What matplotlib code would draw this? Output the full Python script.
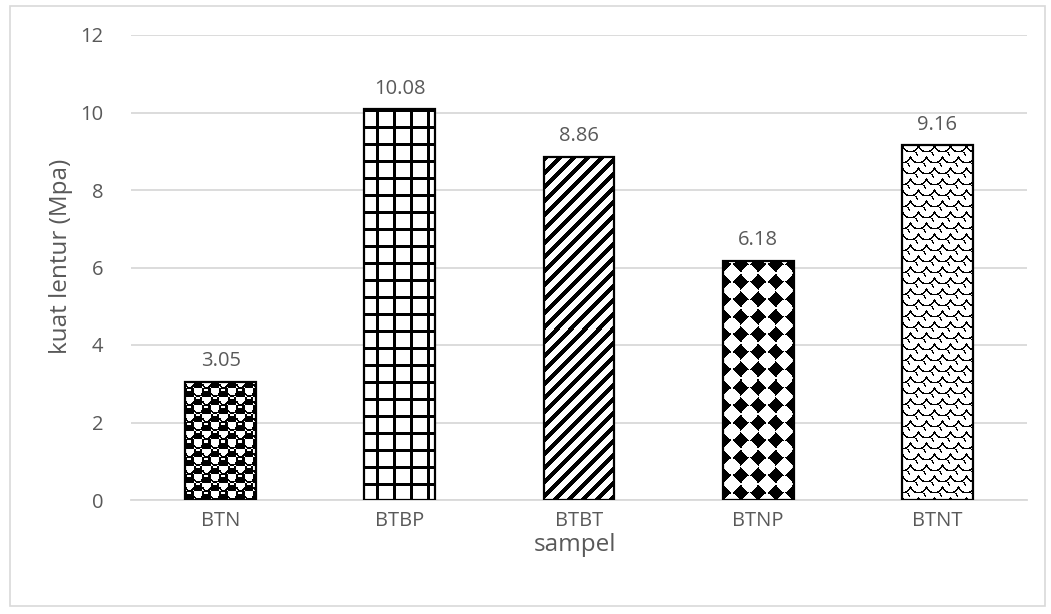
import numpy as np
import matplotlib
matplotlib.use("Agg")
import matplotlib.pyplot as plt
from matplotlib.patches import Rectangle

categories = ["BTN", "BTBP", "BTBT", "BTNP", "BTNT"]
values = [3.05, 10.08, 8.86, 6.18, 9.16]
value_labels = ["3.05", "10.08", "8.86", "6.18", "9.16"]
patterns = ["dots", "grid", "diag", "diamond", "scale"]
yticks = [0, 2, 4, 6, 8, 10, 12]

W, H, DPI = 1051, 614, 100
TXT = "#595959"
GRID = "#d9d9d9"
plt.rcParams["font.family"] = ["Open Sans", "DejaVu Sans"]

fig = plt.figure(figsize=(W / DPI, H / DPI), dpi=DPI)
L, R, T, B = 131, 1027, 35, 500
ax = fig.add_axes([L / W, 1 - B / H, (R - L) / W, (B - T) / H])
ax.set_xlim(-0.5, len(categories) - 0.5)
ax.set_ylim(0, 12)

# chart-area border
fig.patches.append(Rectangle((10 / W, 1 - 606 / H), 1035 / W, 600 / H,
                             transform=fig.transFigure, fill=False,
                             edgecolor=GRID, linewidth=1.2))


def make_pattern(kind, h, w):
    yy, xx = np.mgrid[0:h, 0:w]
    yb = (h - 1 - yy)  # from bottom
    black = np.zeros((h, w), bool)
    if kind == "dots":
        c = 8.5
        i = np.floor(xx / c)
        j = np.floor(yb / c)
        dx = xx - (i + 0.5) * c
        dy = yb - (j + 0.5) * c
        on = ((i + j) % 2) == 0
        black = on & (dx ** 2 + dy ** 2 < 5.8 ** 2)
        black |= on & (np.abs(dx) < 4.3) & (np.abs(dy) < 4.3)
        hl = on & (np.abs(dy - 2.6) < 0.9) & (dx > -2.5) & (dx < 1.5)
        black &= ~hl
        r = np.sqrt(dx ** 2 + dy ** 2)
        black |= (~on) & (np.abs(r - 4.0) < 0.8) & (dy < -0.5)
    elif kind == "grid":
        p = 17.0
        black = (((xx + 5) % p) < 2.2) | (((yb + 3) % p) < 2.2)
    elif kind == "diag":
        p = 14.0
        black = ((xx + yy) % p) < 5.5
    elif kind == "diamond":
        p = 17.5
        dx = ((xx + 9) % p) - p / 2
        dy = ((yb + 2) % p) - p / 2
        q = 0.85
        black = (np.abs(dx) ** q + np.abs(dy) ** q) < (8.6 ** q)
    elif kind == "scale":
        cw, ch = 16.0, 11.0
        row = np.floor(yy / ch)
        xs = xx + (row % 2) * cw / 2
        dx = (xs % cw) - cw / 2
        dy = (yy % ch)
        r = np.sqrt(dx ** 2 + (dy + 2.0) ** 2)
        black = np.abs(r - 8.2) < 0.75
        black |= (np.abs(dx - dy * 0.55 - 1.5) < 0.7) & (dy > 6)
    img = np.ones((h, w, 3))
    img[black] = 0.0
    return img


px_per_cat = (R - L) / len(categories)
bar_w = 0.396
px_per_unit = (B - T) / 12.0

ax.set_axisbelow(True)
ax.yaxis.grid(True, color=GRID, linewidth=1.3)
bars = ax.bar(range(len(categories)), values, width=bar_w, color="white",
              edgecolor="none", zorder=2)
for k, (bar, pat) in enumerate(zip(bars, patterns)):
    x0 = bar.get_x()
    x1 = x0 + bar.get_width()
    v = bar.get_height()
    wp = int(round(bar.get_width() * px_per_cat))
    hp = int(round(v * px_per_unit))
    img = make_pattern(pat, hp, wp)
    ax.imshow(img, extent=(x0, x1, 0, v), origin="upper",
              interpolation="nearest", aspect="auto", zorder=3)
    ax.add_patch(Rectangle((x0, 0), bar.get_width(), v, fill=False,
                           edgecolor="black", linewidth=1.6, zorder=4))
    ax.text(k, v + 0.27, value_labels[k], ha="center", va="bottom",
            fontsize=14.5, color=TXT)

ax.set_aspect("auto")
ax.set_xlim(-0.5, len(categories) - 0.5)
ax.set_ylim(0, 12)
ax.set_yticks(yticks)
ax.set_yticklabels([str(t) for t in yticks])
ax.set_xticks(range(len(categories)))
ax.set_xticklabels(categories)
ax.tick_params(axis="both", length=0, labelsize=14.5, labelcolor=TXT)
ax.tick_params(axis="y", pad=20)
ax.tick_params(axis="x", pad=8)
for s in ["top", "right", "left"]:
    ax.spines[s].set_visible(False)
ax.spines["bottom"].set_color(GRID)
ax.spines["bottom"].set_linewidth(1.3)

fig.text(61 / W, 1 - 256 / H, "kuat lentur (Mpa)", rotation=90, ha="center",
         va="center", fontsize=17.5, color=TXT)
fig.text(575 / W, 1 - 545 / H, "sampel", ha="center", va="center",
         fontsize=17.5, color=TXT)

fig.savefig("out.png", dpi=DPI)
